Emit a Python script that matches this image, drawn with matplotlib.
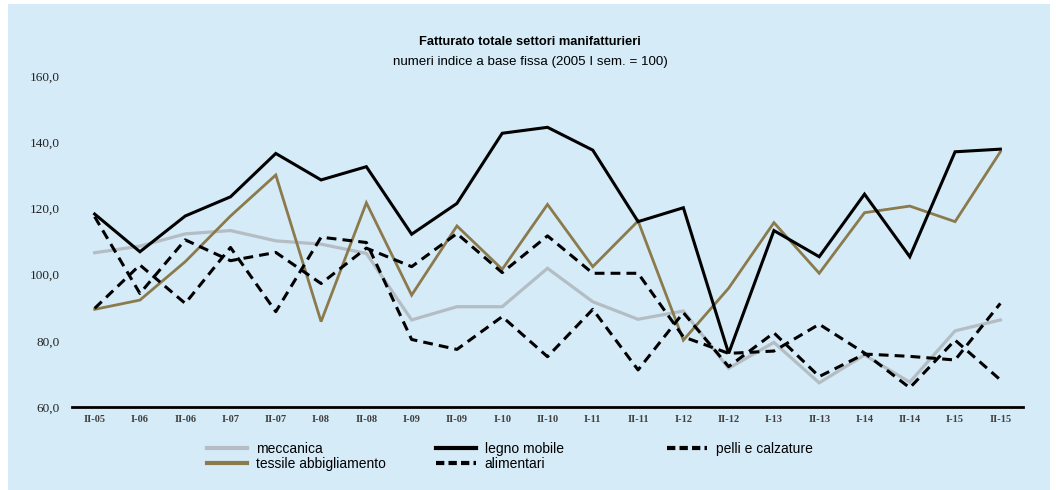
import matplotlib
matplotlib.use("Agg")
import matplotlib.pyplot as plt
from matplotlib.patches import Rectangle
from matplotlib.lines import Line2D
from matplotlib.ticker import FuncFormatter

# Semesters
categories = ["II-05", "I-06", "II-06", "I-07", "II-07", "I-08", "II-08", "I-09",
              "II-09", "I-10", "II-10", "I-11", "II-11", "I-12", "II-12", "I-13",
              "II-13", "I-14", "II-14", "I-15", "II-15"]

meccanica = [106.6, 108.6, 112.3, 113.3, 110.2, 109.2, 106.4, 86.3, 90.3, 90.3, 101.9,
             91.8, 86.5, 89.0, 71.7, 79.5, 67.3, 75.7, 67.5, 83.0, 86.3]
tessile = [89.5, 92.3, 103.9, 117.7, 130.1, 85.8, 121.7, 93.8, 114.7, 101.6, 121.2,
           102.4, 116.2, 80.2, 95.9, 115.7, 100.4, 118.7, 120.7, 116.0, 137.1]
legno = [118.3, 106.9, 117.7, 123.5, 136.6, 128.6, 132.6, 112.2, 121.5, 142.7, 144.5,
         137.6, 116.0, 120.2, 76.2, 113.3, 105.4, 124.3, 105.4, 137.1, 137.9]
alimentari = [117.5, 94.3, 110.5, 104.2, 106.7, 97.3, 108.0, 102.4, 112.4, 100.6, 111.7,
              100.4, 100.4, 81.2, 76.2, 76.9, 85.0, 76.3, 65.8, 80.2, 68.2]
pelli = [89.8, 102.9, 91.3, 108.2, 88.8, 111.3, 109.7, 80.4, 77.4, 87.3, 75.2,
         89.5, 71.2, 88.5, 72.2, 82.4, 69.2, 76.0, 75.3, 74.2, 91.3]

BG = "#D5EBF8"
GREY = "#B3BDC3"
OLIVE = "#8B7A4B"
DASH = (3.2, 2.0)

fig = plt.figure(figsize=(10.56, 4.90), dpi=100)
fig.patch.set_facecolor("white")
fig.patches.append(Rectangle((8 / 1056, 0), 1042 / 1056, 486 / 490,
                             transform=fig.transFigure, facecolor=BG,
                             edgecolor="none", zorder=-10))

ax = fig.add_axes([72 / 1056, 1 - 407 / 490, 951 / 1056, 331 / 490])
ax.set_facecolor("none")

x = list(range(len(categories)))
ax.plot(x, meccanica, color=GREY, lw=2.3, solid_joinstyle="miter", label="meccanica")
ax.plot(x, tessile, color=OLIVE, lw=2.0, solid_joinstyle="miter", label="tessile abbigliamento")
ax.plot(x, legno, color="black", lw=2.2, solid_joinstyle="miter", label="legno mobile")
ax.plot(x, alimentari, color="black", lw=2.2, dashes=DASH, label="alimentari")
ax.plot(x, pelli, color="black", lw=2.2, dashes=DASH, label="pelli e calzature")

ax.set_xlim(-0.5, len(categories) - 0.5)
ax.set_ylim(60, 160)
ax.set_yticks([60, 80, 100, 120, 140, 160])
ax.yaxis.set_major_formatter(FuncFormatter(lambda v, p: f"{v:.1f}".replace(".", ",")))
ax.set_xticks(x)
ax.set_xticklabels(categories)

for s in ["top", "right", "left"]:
    ax.spines[s].set_visible(False)
ax.spines["bottom"].set_linewidth(2.0)
ax.spines["bottom"].set_color("black")

ax.tick_params(axis="y", length=0, pad=9, labelsize=9.5, labelcolor="#222222")
ax.tick_params(axis="x", length=0, pad=6, labelsize=7.5, labelcolor="#404040")
for t in ax.get_yticklabels():
    t.set_fontfamily("Liberation Serif")
for t in ax.get_xticklabels():
    t.set_fontfamily("Liberation Serif")
    t.set_fontweight("bold")

narrow = ["Liberation Sans Narrow", "Liberation Sans", "DejaVu Sans"]
fig.text(530 / 1056, 1 - 42 / 490, "Fatturato totale settori manifatturieri",
         ha="center", va="center", fontsize=9.3, fontweight="bold", family=narrow)
fig.text(530 / 1056, 1 - 62 / 490, "numeri indice a base fissa (2005 I sem. = 100)",
         ha="center", va="center", fontsize=9.6, family=narrow)

# Legend in three columns
handles = {
    "meccanica": Line2D([], [], color=GREY, lw=3.0),
    "tessile abbigliamento": Line2D([], [], color=OLIVE, lw=3.0),
    "legno mobile": Line2D([], [], color="black", lw=3.0),
    "alimentari": Line2D([], [], color="black", lw=3.0, dashes=(2.0, 1.0)),
    "pelli e calzature": Line2D([], [], color="black", lw=3.0, dashes=(2.0, 1.0)),
}
columns = [(["meccanica", "tessile abbigliamento"], 207),
           (["legno mobile", "alimentari"], 436),
           (["pelli e calzature"], 667)]
for names, xpx in columns:
    leg = fig.legend([handles[n] for n in names], names,
                     loc="upper left", bbox_to_anchor=(xpx / 1056, 1 - 442 / 490),
                     frameon=False, fontsize=10, handlelength=2.9, handletextpad=0.6,
                     labelspacing=0.05, borderaxespad=0, borderpad=0,
                     prop={"family": ["Liberation Sans", "DejaVu Sans"], "size": 10})

fig.savefig("out.png", dpi=100, facecolor="white")
